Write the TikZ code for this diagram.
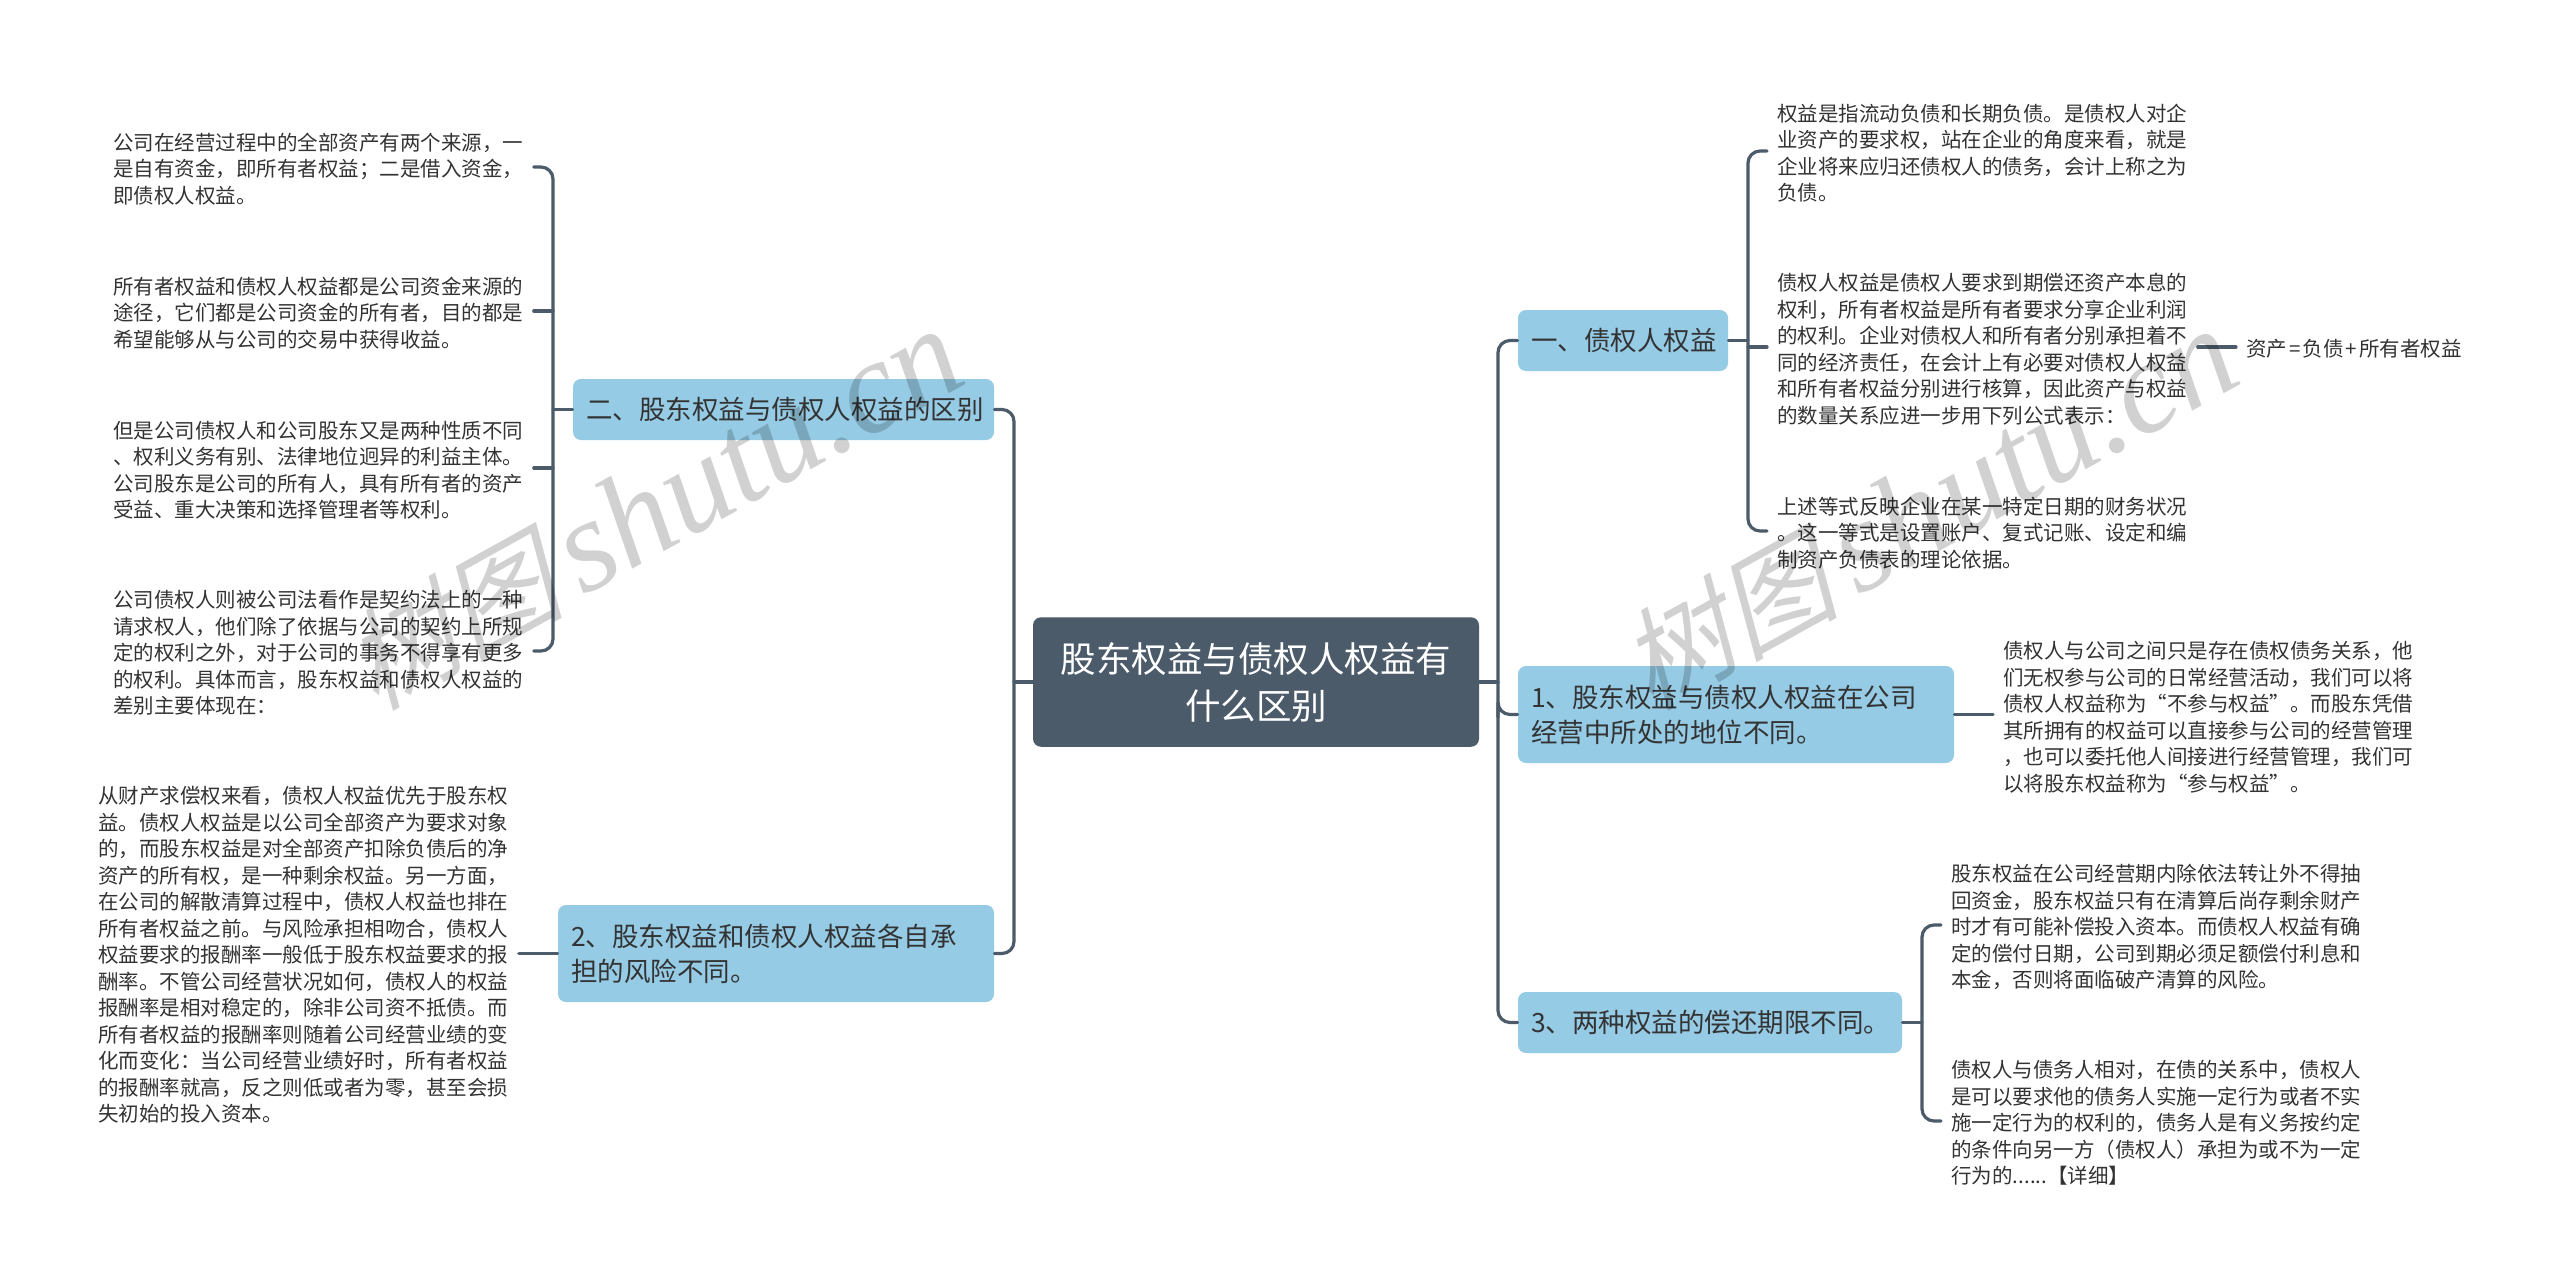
\documentclass[tikz,border=0pt]{standalone}
\usepackage{fontspec}
\setmainfont{Noto Sans CJK SC}
\newfontfamily\wmcjk[FakeSlant=0.25]{Noto Sans CJK SC}
\newfontfamily\wmlat{Liberation Serif}[ItalicFont=* Italic]
\definecolor{linkc}{HTML}{4C5B6A}
\definecolor{boxc}{HTML}{96CBE5}
\definecolor{txtc}{HTML}{333333}
\newcommand{\wmtext}{{\wmcjk\fontsize{55pt}{60pt}\selectfont 树图}\hspace{9pt}{\wmlat\itshape\fontsize{66pt}{70pt}\selectfont shutu.cn}}
\tikzset{
  link/.style={draw=linkc,line width=1.6pt,line cap=round},
  elbow/.style={link,rounded corners=6pt},
  leaf/.style={anchor=west,inner xsep=5pt,inner ysep=0pt,text width=205pt,align=left,text=txtc,font=\fontsize{10.25pt}{13.25pt}\selectfont},
  topic/.style={anchor=center,rounded corners=4pt,fill=boxc,inner xsep=6.5pt,inner ysep=0pt,align=left,text=txtc,font=\fontsize{13.25pt}{17.5pt}\selectfont},
  rootbox/.style={anchor=center,rounded corners=4pt,fill=linkc,draw=none,inner sep=0pt,align=center,text=white,minimum width=223pt,minimum height=64.75pt,text width=200pt,font=\fontsize{17.75pt}{23.5pt}\selectfont},
  wm/.style={text=black,text opacity=.18,anchor=base west,rotate=29,inner sep=0pt}
}
\begin{document}
\begin{tikzpicture}[x=0.5pt,y=-0.5pt]
\useasboundingbox (0,0) rectangle (2560,1285);
\fill[white] (0,0) rectangle (2560,1285);
% root
\node[rootbox] (root) at (1256,682) {股东权益与债权人权益有\\什么区别};
% topics
\node[topic,minimum width=210.5pt,minimum height=30.5pt,text width=197.5pt] (t2) at (783.5,409.5) {二、股东权益与债权人权益的区别};
\node[topic,minimum width=218pt,minimum height=48.5pt,text width=205pt] (t22) at (776,953.5) {2、股东权益和债权人权益各自承\\担的风险不同。};
\node[topic,minimum width=105pt,minimum height=30.5pt,text width=92pt] (a1) at (1623,340.5) {一、债权人权益};
\node[topic,minimum width=218pt,minimum height=48.5pt,text width=205pt] (a2) at (1736,714.5) {1、股东权益与债权人权益在公司\\经营中所处的地位不同。};
\node[topic,minimum width=192pt,minimum height=30.5pt,text width=179pt] (a3) at (1710,1022.5) {3、两种权益的偿还期限不同。};
% left leaves
\node[leaf] (l1) at (103,169) {公司在经营过程中的全部资产有两个来源，一\\是自有资金，即所有者权益；二是借入资金，\\即债权人权益。};
\node[leaf] (l2) at (103,313) {所有者权益和债权人权益都是公司资金来源的\\途径，它们都是公司资金的所有者，目的都是\\希望能够从与公司的交易中获得收益。};
\node[leaf] (l3) at (103,470) {但是公司债权人和公司股东又是两种性质不同\\、权利义务有别、法律地位迥异的利益主体。\\公司股东是公司的所有人，具有所有者的资产\\受益、重大决策和选择管理者等权利。};
\node[leaf] (l4) at (103,653) {公司债权人则被公司法看作是契约法上的一种\\请求权人，他们除了依据与公司的契约上所规\\定的权利之外，对于公司的事务不得享有更多\\的权利。具体而言，股东权益和债权人权益的\\差别主要体现在：};
\node[leaf] (l5) at (88,955) {从财产求偿权来看，债权人权益优先于股东权\\益。债权人权益是以公司全部资产为要求对象\\的，而股东权益是对全部资产扣除负债后的净\\资产的所有权，是一种剩余权益。另一方面，\\在公司的解散清算过程中，债权人权益也排在\\所有者权益之前。与风险承担相吻合，债权人\\权益要求的报酬率一般低于股东权益要求的报\\酬率。不管公司经营状况如何，债权人的权益\\报酬率是相对稳定的，除非公司资不抵债。而\\所有者权益的报酬率则随着公司经营业绩的变\\化而变化：当公司经营业绩好时，所有者权益\\的报酬率就高，反之则低或者为零，甚至会损\\失初始的投入资本。};
% right leaves
\node[leaf] (r1) at (1767,153) {权益是指流动负债和长期负债。是债权人对企\\业资产的要求权，站在企业的角度来看，就是\\企业将来应归还债权人的债务，会计上称之为\\负债。};
\node[leaf] (r2) at (1767,349) {债权人权益是债权人要求到期偿还资产本息的\\权利，所有者权益是所有者要求分享企业利润\\的权利。企业对债权人和所有者分别承担着不\\同的经济责任，在会计上有必要对债权人权益\\和所有者权益分别进行核算，因此资产与权益\\的数量关系应进一步用下列公式表示：};
\node[leaf] (r3) at (1767,533) {上述等式反映企业在某一特定日期的财务状况\\。这一等式是设置账户、复式记账、设定和编\\制资产负债表的理论依据。};
\node[leaf,text width=112pt] (r2a) at (2236,349) {资产\hspace{1pt}=\hspace{1pt}负债\hspace{1pt}+\hspace{1pt}所有者权益};
\node[leaf] (r4) at (1993,717) {债权人与公司之间只是存在债权债务关系，他\\们无权参与公司的日常经营活动，我们可以将\\债权人权益称为“不参与权益”。而股东凭借\\其所拥有的权益可以直接参与公司的经营管理\\，也可以委托他人间接进行经营管理，我们可\\以将股东权益称为“参与权益”。};
\node[leaf] (r5) at (1941,927) {股东权益在公司经营期内除依法转让外不得抽\\回资金，股东权益只有在清算后尚存剩余财产\\时才有可能补偿投入资本。而债权人权益有确\\定的偿付日期，公司到期必须足额偿付利息和\\本金，否则将面临破产清算的风险。};
\node[leaf] (r6) at (1941,1123) {债权人与债务人相对，在债的关系中，债权人\\是可以要求他的债务人实施一定行为或者不实\\施一定行为的权利的，债务人是有义务按约定\\的条件向另一方（债权人）承担为或不为一定\\行为的......【详细】};
% spines
\coordinate (sL) at (1014,682);
\coordinate (sR) at (1498,682);
\coordinate (s2) at (553,409);
\coordinate (sA1) at (1748,341);
\coordinate (sA3) at (1922,1022);
% root links
\draw[link] (root.west) -- (root.west -| sL);
\draw[link] (root.east) -- (root.east -| sR);
\draw[elbow] (t2.east) -- (t2.east -| sL) -- (t22.east -| sL) -- (t22.east);
\draw[elbow] (a1.west) -- (a1.west -| sR) -- (a3.west -| sR) -- (a3.west);
\draw[elbow] (a2.west -| sR) -- ++(0,-9) -- (a2.west -| sR) -- (a2.west);
% left group
\draw[elbow] ([yshift=1pt]l1.east) -- ([yshift=1pt]l1.east -| s2) -- ([yshift=1pt]l4.east -| s2) -- ([yshift=1pt]l4.east);
\draw[link] (t2.west) -- (t2.west -| s2);
\draw[link] ([yshift=1pt]l2.east) -- ([yshift=1pt]l2.east -| s2);
\draw[link] ([yshift=1pt]l3.east) -- ([yshift=1pt]l3.east -| s2);
\draw[link] (l5.east |- t22.west) -- (t22.west);
% right group a1
\draw[elbow] ([yshift=1pt]r1.west) -- ([yshift=1pt]r1.west -| sA1) -- ([yshift=1pt]r3.west -| sA1) -- ([yshift=1pt]r3.west);
\draw[link] (a1.east) -- (a1.east -| sA1);
\draw[link] ([yshift=1pt]r2.west -| sA1) -- ([yshift=1pt]r2.west);
\draw[link] ([yshift=1pt]r2.east) -- ([yshift=1pt]r2a.west);
% a2
\draw[link] (a2.east) -- (r4.west |- a2.east);
% a3
\draw[elbow] ([yshift=1pt]r5.west) -- ([yshift=1pt]r5.west -| sA3) -- ([yshift=1pt]r6.west -| sA3) -- ([yshift=1pt]r6.west);
\draw[link] (a3.east) -- (a3.east -| sA3);
% watermark
\node[wm] (wm1) at (375,712) {\wmtext};
\node[wm] (wm2) at (1650,712) {\wmtext};
\end{tikzpicture}
\end{document}
